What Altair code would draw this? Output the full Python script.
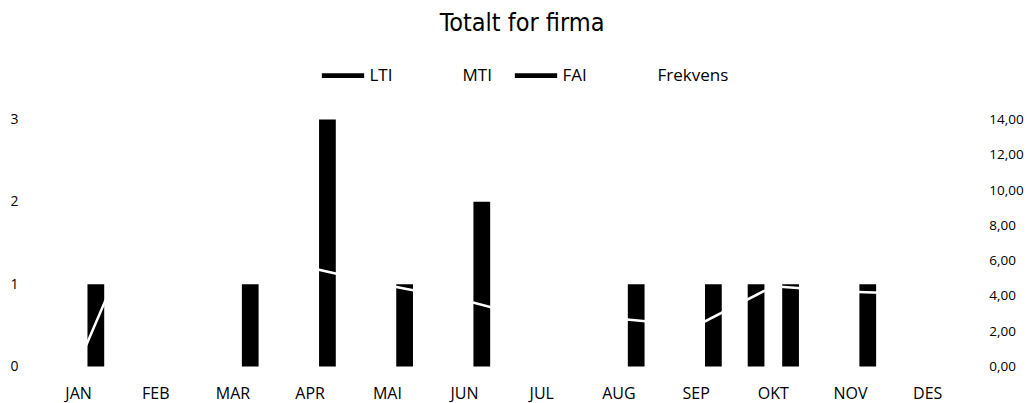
import altair as alt
import pandas as pd

months = ["JAN", "FEB", "MAR", "APR", "MAI", "JUN", "JUL", "AUG", "SEP", "OKT", "NOV", "DES"]
bar_series = ["LTI", "MTI", "FAI"]
legend_items = ["LTI", "MTI", "FAI", "Frekvens"]
legend_colors = ["#000000", "#ffffff", "#000000", "#ffffff"]

lti = [0, 0, 0, 0, 0, 0, 0, 0, 0, 1, 0, 0]
mti = [0, 0, 0, 0, 0, 0, 0, 0, 0, 0, 0, 0]
fai = [1, 0, 1, 3, 1, 2, 0, 1, 1, 1, 1, 0]
frekvens = [0.2, 10.4, 7.8, 5.6, 4.6, 3.75, 2.6, 2.7, 2.3, 4.55, 4.23, 4.1]

left_ticks = [0, 1, 2, 3]
right_ticks = [0, 2, 4, 6, 8, 10, 12, 14]

rows = []
for name, vals in zip(bar_series, [lti, mti, fai]):
    for m, v in zip(months, vals):
        rows.append({"month": m, "series": name, "value": v})
bars_df = pd.DataFrame(rows)
line_df = pd.DataFrame({"month": months, "frekvens": frekvens})

label_font = "Open Sans"

x_enc = alt.X(
    "month:N",
    sort=months,
    scale=alt.Scale(domain=months, paddingInner=0, paddingOuter=0),
    axis=alt.Axis(title=None, labelAngle=0, ticks=False, domain=False,
                  labelPadding=19, labelFont=label_font, labelFontSize=16,
                  labelColor="#000000", grid=False),
)

bars = alt.Chart(bars_df).mark_bar(strokeWidth=0).encode(
    x=x_enc,
    xOffset=alt.XOffset("series:N", sort=bar_series,
                        scale=alt.Scale(domain=bar_series, paddingInner=0.03, paddingOuter=0.752)),
    y=alt.Y("value:Q",
            scale=alt.Scale(domain=[0, 3], nice=False, zero=True),
            axis=alt.Axis(title=None, values=left_ticks, format="d", grid=False,
                          ticks=False, domain=False, labelPadding=22,
                          labelFont=label_font, labelFontSize=14, labelColor="#000000")),
    color=alt.Color("series:N",
                    scale=alt.Scale(domain=legend_items, range=legend_colors),
                    legend=alt.Legend(
                        title=None, orient="none", direction="horizontal",
                        legendX=281.5, legendY=-65.6,
                        symbolType="M-1,-0.111H1V0.111H-1Z", symbolSize=1789,
                        symbolStrokeWidth=0, labelFont=label_font, labelFontSize=17,
                        labelColor="#000000", labelOffset=5, columnPadding=22,
                        padding=0)),
)

line = alt.Chart(line_df).mark_line(color="#ffffff", strokeWidth=2.5).encode(
    x=alt.X("month:N", sort=months),
    y=alt.Y("frekvens:Q",
            scale=alt.Scale(domain=[0, 14], nice=False, zero=True),
            axis=alt.Axis(title=None, orient="right", values=right_ticks,
                          labelExpr="replace(format(datum.value, '.2f'), '.', ',')",
                          grid=False, ticks=False, domain=False, labelPadding=22.5,
                          labelFont=label_font, labelFontSize=13.5, labelColor="#000000")),
)

chart = alt.layer(bars, line).resolve_scale(y="independent").properties(
    width=926.3,
    height=247,
    title=alt.TitleParams("Totalt for firma",
                          font="Liberation Sans Narrow, DejaVu Sans Condensed, Liberation Sans, sans-serif",
                          fontSize=25, fontWeight="normal", color="#000000",
                          anchor="middle", frame="group", dx=19,
                          orient="bottom", offset=-370.5,
                          baseline="alphabetic"),
    padding={"left": 32, "top": 111.5, "right": 57.7, "bottom": 40},
    autosize="none",
).configure_view(stroke=None)

chart.save("out.html", embed_options={"renderer": "svg", "actions": False})
